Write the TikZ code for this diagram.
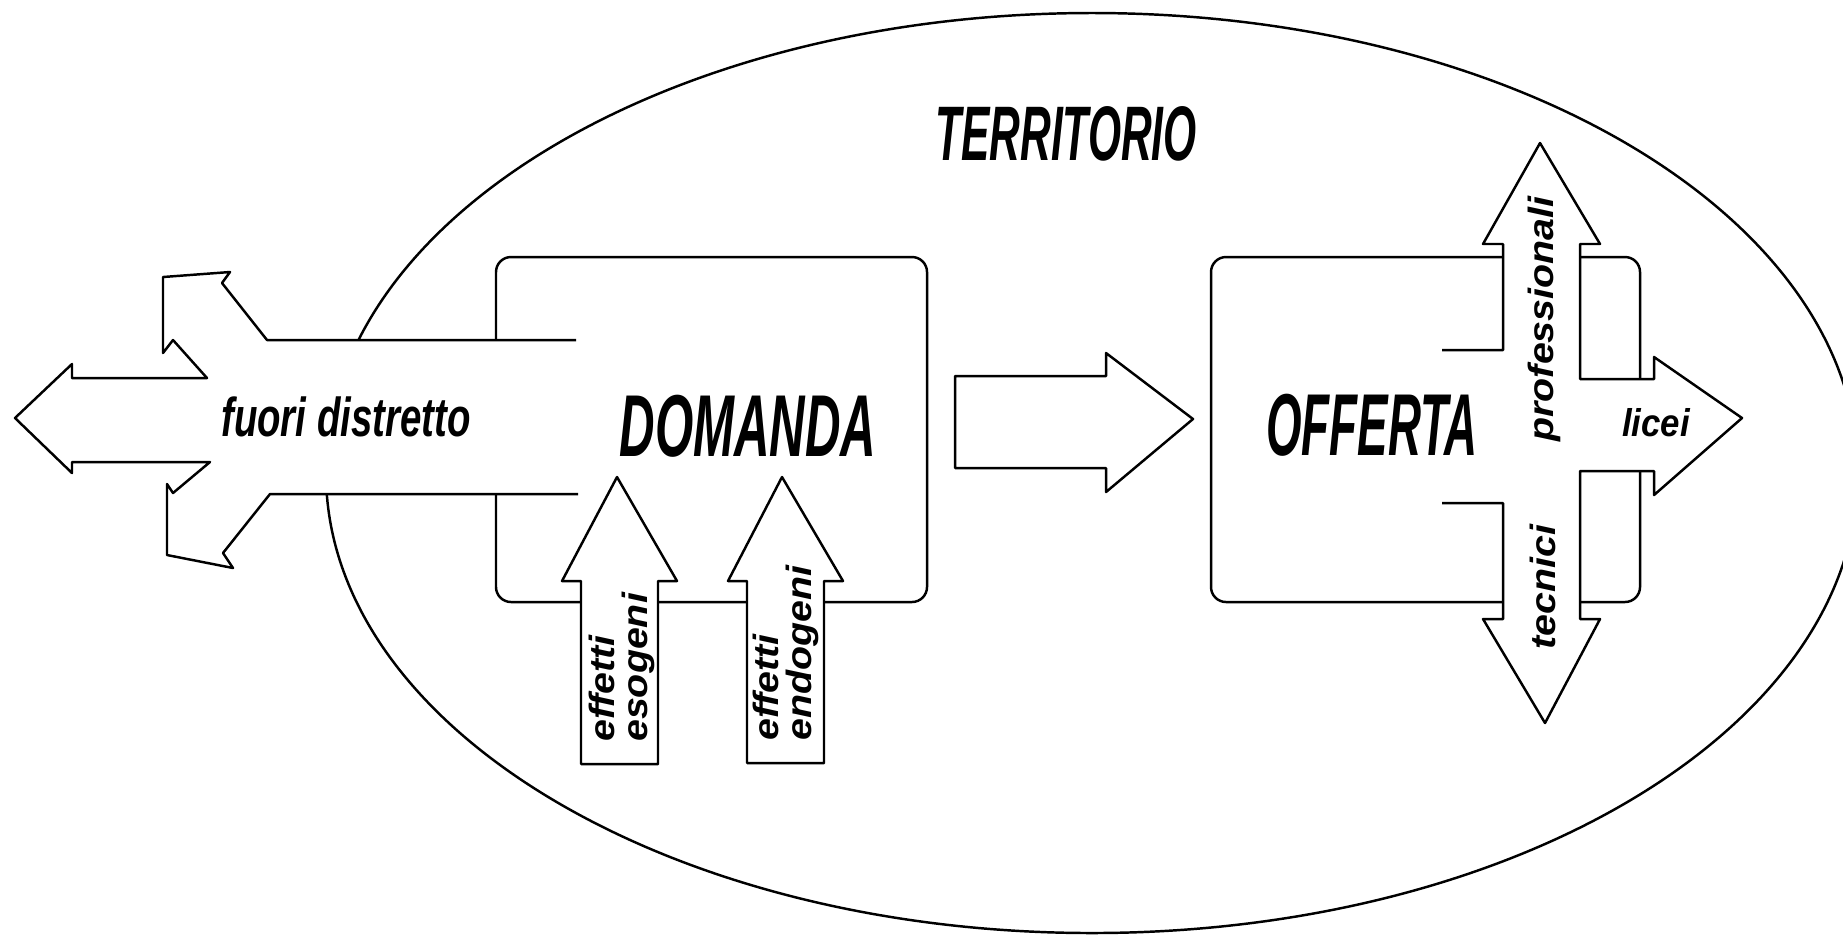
\documentclass[tikz,border=0pt]{standalone}
\usepackage{fontspec}
\setmainfont{Liberation Sans}
\usepackage{graphicx}
\newcommand{\squeeze}[2]{\scalebox{#1}[1]{#2}}

\begin{document}
\begin{tikzpicture}
  [
    line width = 0.7pt,
    every node/.style = {inner sep = 0pt, font = \bfseries\itshape},
    block/.style = {draw, fill = white, line join = round},
    box/.style = {draw, rounded corners = 0.15cm},
    big/.style = {font = \bfseries\itshape\fontsize{25}{25}\selectfont},
    side/.style = {font = \bfseries\itshape\fontsize{10}{9.5}\selectfont, rotate = 90, align = left}
  ]
    \clip (0,0) rectangle (18.43,-9.34);
    \draw (10.92,-4.73) ellipse [x radius = 7.66, y radius = 4.60];
    \draw [box] (4.96,-2.57) rectangle (9.27,-6.02);
    \draw [box] (12.11,-2.57) rectangle (16.40,-6.02);
    \draw [block] (5.76,-3.40) -- (2.67,-3.40) -- (2.22,-2.83) -- (2.30,-2.72) -- (1.63,-2.77) -- (1.63,-3.53)
      -- (1.73,-3.40) -- (2.07,-3.78) -- (0.72,-3.78) -- (0.72,-3.64) -- (0.15,-4.18) -- (0.72,-4.73)
      -- (0.72,-4.62) -- (2.10,-4.62) -- (1.73,-4.93) -- (1.67,-4.84) -- (1.67,-5.55) -- (2.33,-5.68)
      -- (2.23,-5.53) -- (2.70,-4.94) -- (5.78,-4.94);
    \draw [block] (5.81,-7.64) -- (5.81,-5.81) -- (5.62,-5.81) -- (6.17,-4.77) -- (6.77,-5.81) -- (6.58,-5.81) -- (6.58,-7.64) -- cycle;
    \draw [block] (7.47,-7.63) -- (7.47,-5.81) -- (7.28,-5.81) -- (7.82,-4.77) -- (8.43,-5.81) -- (8.24,-5.81) -- (8.24,-7.63) -- cycle;
    \draw [block] (9.55,-3.76) -- (11.06,-3.76) -- (11.06,-3.53) -- (11.93,-4.19) -- (11.06,-4.92) -- (11.06,-4.68) -- (9.55,-4.68) -- cycle;
    \draw [block] (14.42,-3.50) -- (15.03,-3.50) -- (15.03,-2.44) -- (14.83,-2.44) -- (15.40,-1.43) -- (16.00,-2.44)
      -- (15.80,-2.44) -- (15.80,-3.79) -- (16.54,-3.79) -- (16.54,-3.57) -- (17.42,-4.18) -- (16.54,-4.95)
      -- (16.54,-4.71) -- (15.80,-4.71) -- (15.80,-6.19) -- (16.00,-6.19) -- (15.45,-7.23) -- (14.83,-6.19)
      -- (15.03,-6.19) -- (15.03,-5.03) -- (14.42,-5.03);
    \node (territorio) [font = \bfseries\itshape\fontsize{22}{22}\selectfont] at (10.66,-1.34) {\squeeze{0.55}{TERRITORIO}};
    \node (domanda) [big] at (7.48,-4.26) {\squeeze{0.56}{DOMANDA}};
    \node (offerta) [big] at (13.72,-4.25) {\squeeze{0.52}{OFFERTA}};
    \node (fuori) [font = \bfseries\itshape\fontsize{15.6}{15.6}\selectfont] at (3.46,-4.17) {\squeeze{0.70}{fuori distretto}};
    \node (esogeni) [side, anchor = west] at (6.22,-7.43) {\squeeze{1.12}{effetti}\\\squeeze{1.12}{esogeni}};
    \node (endogeni) [side, anchor = west] at (7.86,-7.42) {\squeeze{1.12}{effetti}\\\squeeze{1.12}{endogeni}};
    \node (professionali) [side] at (15.44,-3.19) {\squeeze{1.12}{professionali}};
    \node (tecnici) [side] at (15.43,-5.87) {\squeeze{1.12}{tecnici}};
    \node (licei) [font = \bfseries\itshape\fontsize{11}{11}\selectfont] at (16.56,-4.23) {\squeeze{0.9}{licei}};
  \end{tikzpicture}
\end{document}
